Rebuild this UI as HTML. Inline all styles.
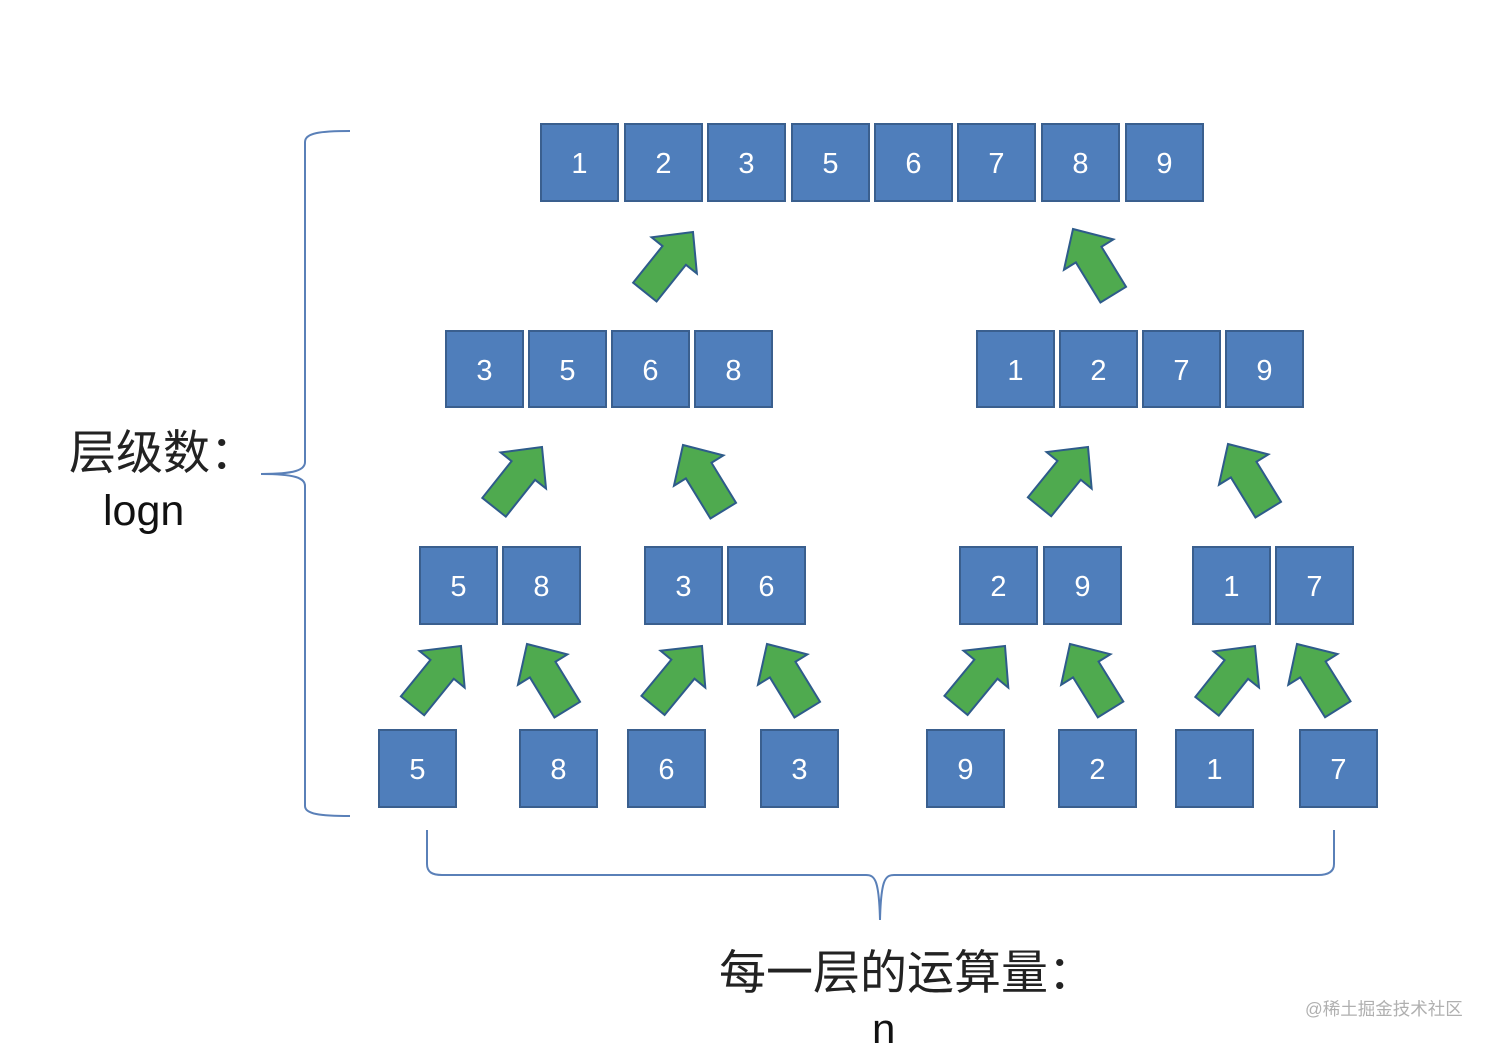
<!DOCTYPE html>
<html>
<head>
<meta charset="utf-8">
<style>
  html,body{margin:0;padding:0;background:#fff;}
  body{width:1492px;height:1046px;overflow:hidden;}
  svg{display:block;}
  .b{fill:#4F7EBB;stroke:#3A5F8E;stroke-width:2;}
  .t{fill:#fff;font-family:"Liberation Sans",sans-serif;font-size:29px;text-anchor:middle;}
  .ar{fill:#4FAA4F;stroke:#2E5B8A;stroke-width:2;stroke-linejoin:miter;}
  .br{fill:none;stroke:#5A80B8;stroke-width:2;}
</style>
</head>
<body>
<svg width="1492" height="1046" viewBox="0 0 1492 1046" xmlns="http://www.w3.org/2000/svg">
  <defs>
    <path id="arr" d="M0,0 L29,30 L15,30 L15,77 L-15,77 L-15,30 L-29,30 Z"/>
  </defs>

  <!-- Top row -->
  <g>
    <rect class="b" x="541" y="124" width="77" height="77"/><text class="t" x="579.5" y="173">1</text>
    <rect class="b" x="625" y="124" width="77" height="77"/><text class="t" x="663.5" y="173">2</text>
    <rect class="b" x="708" y="124" width="77" height="77"/><text class="t" x="746.5" y="173">3</text>
    <rect class="b" x="792" y="124" width="77" height="77"/><text class="t" x="830.5" y="173">5</text>
    <rect class="b" x="875" y="124" width="77" height="77"/><text class="t" x="913.5" y="173">6</text>
    <rect class="b" x="958" y="124" width="77" height="77"/><text class="t" x="996.5" y="173">7</text>
    <rect class="b" x="1042" y="124" width="77" height="77"/><text class="t" x="1080.5" y="173">8</text>
    <rect class="b" x="1126" y="124" width="77" height="77"/><text class="t" x="1164.5" y="173">9</text>
  </g>

  <!-- Level 2 -->
  <g>
    <rect class="b" x="446" y="331" width="77" height="76"/><text class="t" x="484.5" y="380">3</text>
    <rect class="b" x="529" y="331" width="77" height="76"/><text class="t" x="567.5" y="380">5</text>
    <rect class="b" x="612" y="331" width="77" height="76"/><text class="t" x="650.5" y="380">6</text>
    <rect class="b" x="695" y="331" width="77" height="76"/><text class="t" x="733.5" y="380">8</text>
    <rect class="b" x="977" y="331" width="77" height="76"/><text class="t" x="1015.5" y="380">1</text>
    <rect class="b" x="1060" y="331" width="77" height="76"/><text class="t" x="1098.5" y="380">2</text>
    <rect class="b" x="1143" y="331" width="77" height="76"/><text class="t" x="1181.5" y="380">7</text>
    <rect class="b" x="1226" y="331" width="77" height="76"/><text class="t" x="1264.5" y="380">9</text>
  </g>

  <!-- Level 3 -->
  <g>
    <rect class="b" x="420" y="547" width="77" height="77"/><text class="t" x="458.5" y="596">5</text>
    <rect class="b" x="503" y="547" width="77" height="77"/><text class="t" x="541.5" y="596">8</text>
    <rect class="b" x="645" y="547" width="77" height="77"/><text class="t" x="683.5" y="596">3</text>
    <rect class="b" x="728" y="547" width="77" height="77"/><text class="t" x="766.5" y="596">6</text>
    <rect class="b" x="960" y="547" width="77" height="77"/><text class="t" x="998.5" y="596">2</text>
    <rect class="b" x="1044" y="547" width="77" height="77"/><text class="t" x="1082.5" y="596">9</text>
    <rect class="b" x="1193" y="547" width="77" height="77"/><text class="t" x="1231.5" y="596">1</text>
    <rect class="b" x="1276" y="547" width="77" height="77"/><text class="t" x="1314.5" y="596">7</text>
  </g>

  <!-- Level 4 -->
  <g>
    <rect class="b" x="379" y="730" width="77" height="77"/><text class="t" x="417.5" y="779">5</text>
    <rect class="b" x="520" y="730" width="77" height="77"/><text class="t" x="558.5" y="779">8</text>
    <rect class="b" x="628" y="730" width="77" height="77"/><text class="t" x="666.5" y="779">6</text>
    <rect class="b" x="761" y="730" width="77" height="77"/><text class="t" x="799.5" y="779">3</text>
    <rect class="b" x="927" y="730" width="77" height="77"/><text class="t" x="965.5" y="779">9</text>
    <rect class="b" x="1059" y="730" width="77" height="77"/><text class="t" x="1097.5" y="779">2</text>
    <rect class="b" x="1176" y="730" width="77" height="77"/><text class="t" x="1214.5" y="779">1</text>
    <rect class="b" x="1300" y="730" width="77" height="77"/><text class="t" x="1338.5" y="779">7</text>
  </g>

  <!-- Arrows -->
  <g>
    <use href="#arr" class="ar" transform="translate(693,232) rotate(38.7)"/>
    <use href="#arr" class="ar" transform="translate(1073,229) rotate(-31.5)"/>

    <use href="#arr" class="ar" transform="translate(542,447) rotate(38.5)"/>
    <use href="#arr" class="ar" transform="translate(683,445) rotate(-31.5)"/>
    <use href="#arr" class="ar" transform="translate(1088,447) rotate(39)"/>
    <use href="#arr" class="ar" transform="translate(1228,444) rotate(-31.5)"/>

    <use href="#arr" class="ar" transform="translate(461,646) rotate(39)"/>
    <use href="#arr" class="ar" transform="translate(527,644) rotate(-31.5)"/>
    <use href="#arr" class="ar" transform="translate(702,646) rotate(39.5)"/>
    <use href="#arr" class="ar" transform="translate(767,644) rotate(-31.5)"/>
    <use href="#arr" class="ar" transform="translate(1005,646) rotate(39.5)"/>
    <use href="#arr" class="ar" transform="translate(1070,644) rotate(-31.8)"/>
    <use href="#arr" class="ar" transform="translate(1255,646) rotate(38.5)"/>
    <use href="#arr" class="ar" transform="translate(1297,644) rotate(-32)"/>
  </g>

  <!-- Left brace -->
  <path class="br" d="M350,131 C320,131 305,133 305,142 L305,462 C305,470 295,474 261,474 C295,474 305,478 305,486 L305,806 C305,814 320,816 350,816"/>

  <!-- Bottom brace -->
  <path class="br" d="M427,830 L427,864 C427,872 432,875 442,875 L866,875 C875,875 879,880 880,920 C881,880 885,875 894,875 L1318,875 C1328,875 1334,872 1334,864 L1334,830"/>

  <!-- Labels -->
  <text x="69" y="469" font-family="'Liberation Sans','Noto Sans CJK SC',sans-serif" font-size="47" fill="#222">层级数：</text>
  <text x="103" y="525" font-family="'Liberation Sans',sans-serif" font-size="43" fill="#111">logn</text>

  <text x="719" y="989" font-family="'Liberation Sans','Noto Sans CJK SC',sans-serif" font-size="47" fill="#222">每一层的运算量：</text>
  <text x="872" y="1043" font-family="'Liberation Sans',sans-serif" font-size="42" fill="#111">n</text>

  <text x="1305" y="1015" font-family="'Liberation Sans','Noto Sans CJK SC',sans-serif" font-size="17.5" fill="#b0b0b0">@稀土掘金技术社区</text>
</svg>
</body>
</html>
